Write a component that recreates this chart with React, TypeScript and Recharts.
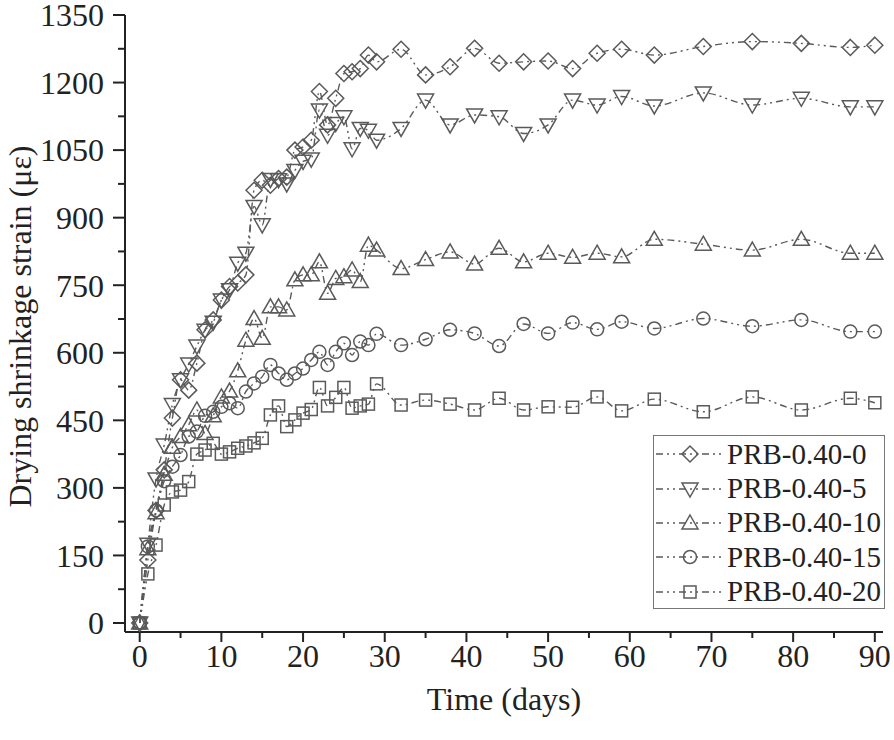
import React from "react";
import { LineChart, Line, XAxis, YAxis } from "recharts";

// sampling days (daily for the first month, then every few days)
const days = [
  0, 1, 2, 3, 4, 5, 6, 7, 8, 9, 10, 11, 12, 13, 14, 15, 16, 17, 18, 19, 20, 21, 22, 23, 24, 25, 26, 27, 28, 29,
  32, 35, 38, 41, 44, 47, 50, 53, 56, 59, 63, 69, 75, 81, 87, 90,
];

const prb0 = [
  0, 140, 250, 340, 455, 540, 517, 577, 651, 673, 717, 747, 755, 773, 961, 983, 972, 987, 990, 1050, 1057, 1072, 1180,
  1106, 1165, 1220, 1224, 1231, 1261, 1246,
  1274, 1217, 1235, 1276, 1243, 1246, 1248, 1231, 1265, 1274, 1261, 1280, 1291, 1287, 1278, 1283,
];
const prb5 = [
  0, 175, 320, 395, 485, 540, 575, 615, 650, 668, 717, 740, 799, 821, 925, 884, 985, 984, 975, 1005, 1025, 1030, 1139,
  1083, 1109, 1124, 1053, 1098, 1094, 1072,
  1098, 1161, 1106, 1128, 1124, 1087, 1106, 1161, 1150, 1169, 1148, 1177, 1150, 1165, 1146, 1146,
];
const prb10 = [
  0, 165, 245, 330, 390, 414, 440, 473, 421, 460, 502, 515, 560, 628, 676, 632, 702, 702, 695, 762, 773, 773, 802, 732,
  765, 769, 784, 758, 839, 828,
  787, 807, 824, 797, 832, 802, 821, 812, 821, 813, 852, 841, 828, 852, 821, 821,
];
const prb15 = [
  0, 170, 250, 315, 347, 373, 414, 425, 460, 469, 480, 488, 477, 514, 532, 547, 573, 554, 540, 554, 565, 584, 602, 573,
  602, 621, 595, 625, 617, 642,
  617, 630, 651, 643, 615, 664, 643, 667, 652, 669, 654, 676, 659, 673, 647, 647,
];
const prb20 = [
  0, 109, 173, 262, 291, 295, 314, 375, 384, 399, 375, 380, 388, 393, 400, 410, 462, 482, 436, 451, 466, 474, 523, 482,
  501, 523, 477, 482, 486, 531,
  484, 495, 486, 473, 499, 473, 480, 479, 502, 471, 497, 469, 502, 473, 499, 489,
];

const xTicks = [0, 5, 10, 15, 20, 25, 30, 35, 40, 45, 50, 55, 60, 65, 70, 75, 80, 85, 90];
const yTicks = [0, 75, 150, 225, 300, 375, 450, 525, 600, 675, 750, 825, 900, 975, 1050, 1125, 1200, 1275, 1350];

const series = [
  { key: "s0", name: "PRB-0.40-0", shape: "diamond", values: prb0 },
  { key: "s5", name: "PRB-0.40-5", shape: "down", values: prb5 },
  { key: "s10", name: "PRB-0.40-10", shape: "up", values: prb10 },
  { key: "s15", name: "PRB-0.40-15", shape: "circle", values: prb15 },
  { key: "s20", name: "PRB-0.40-20", shape: "square", values: prb20 },
];

const data = days.map((d, i) => {
  const row: Record<string, number> = { day: d };
  series.forEach((s) => (row[s.key] = s.values[i]));
  return row;
});

const FONT = '"Times New Roman", "Liberation Serif", serif';
const INK = "#222";
const GRAY = "#5a5a5a";
const DASH = "7 4 2 4 2 4";

function Marker({ cx, cy, shape }: { cx?: number; cy?: number; shape: string }) {
  if (cx == null || cy == null) return null;
  const common = { fill: "none", stroke: GRAY, strokeWidth: 1.5 };
  switch (shape) {
    case "diamond":
      return <polygon points={`${cx},${cy - 8} ${cx + 8},${cy} ${cx},${cy + 8} ${cx - 8},${cy}`} {...common} />;
    case "down":
      return <polygon points={`${cx - 8},${cy - 6} ${cx + 8},${cy - 6} ${cx},${cy + 8}`} {...common} />;
    case "up":
      return <polygon points={`${cx},${cy - 8} ${cx + 8},${cy + 6} ${cx - 8},${cy + 6}`} {...common} />;
    case "circle":
      return <circle cx={cx} cy={cy} r={6.5} {...common} />;
    default:
      return <rect x={cx - 6} y={cy - 6} width={12} height={12} {...common} />;
  }
}

function XTick({ x, y, payload }: any) {
  const major = payload.value % 10 === 0;
  return (
    <g>
      <line x1={x} y1={y} x2={x} y2={y + (major ? 10 : 6)} stroke={INK} strokeWidth={2} />
      {major && (
        <text x={x} y={y + 12} dy="0.71em" textAnchor="middle" fontFamily={FONT} fontSize={32} fill={INK}>
          {payload.value}
        </text>
      )}
    </g>
  );
}

function YTick({ x, y, payload }: any) {
  const major = payload.value % 150 === 0;
  return (
    <g>
      <line x1={x - (major ? 12 : 7)} y1={y} x2={x} y2={y} stroke={INK} strokeWidth={2} />
      {major && (
        <text x={x - 21} y={y} dy="0.355em" textAnchor="end" fontFamily={FONT} fontSize={32} fill={INK}>
          {payload.value}
        </text>
      )}
    </g>
  );
}

function XTitle({ viewBox }: any) {
  return (
    <text x={viewBox.x + viewBox.width / 2} y={viewBox.y + 78} textAnchor="middle" fontFamily={FONT} fontSize={32} fill={INK}>
      Time (days)
    </text>
  );
}

function YTitle({ viewBox }: any) {
  const cy = viewBox.y + viewBox.height / 2 + 3;
  return (
    <text x={31} y={cy} transform={`rotate(-90 31 ${cy})`} textAnchor="middle" fontFamily={FONT} fontSize={32} fill={INK}>
      Drying shrinkage strain (με)
    </text>
  );
}

function LegendBox() {
  return (
    <div
      style={{
        position: "absolute",
        left: 653,
        top: 435,
        width: 232,
        height: 174,
        boxSizing: "border-box",
        border: "1.5px solid #777",
        background: "#fff",
        fontFamily: FONT,
        fontSize: 29,
        color: INK,
        paddingTop: 1,
      }}
    >
      {series.map((s) => (
        <div key={s.key} style={{ height: 34.4, display: "flex", alignItems: "center" }}>
          <svg width={73} height={34} style={{ flex: "none" }}>
            <line x1={2} y1={17} x2={70} y2={17} stroke={GRAY} strokeWidth={1.4} strokeDasharray={DASH} />
            <Marker cx={36} cy={17} shape={s.shape} />
          </svg>
          <span style={{ lineHeight: 1 }}>{s.name}</span>
        </div>
      ))}
    </div>
  );
}

export default function App() {
  return (
    <div style={{ position: "absolute", left: 0, top: 0, width: 894, height: 740, background: "#fff" }}>
      <LineChart width={894} height={740} data={data} margin={{ top: 15, right: 11, left: 0, bottom: 0 }}>
        <XAxis
          dataKey="day"
          type="number"
          domain={[-1.8, 91]}
          ticks={xTicks}
          interval={0}
          height={108}
          tickSize={0}
          tickMargin={0}
          tickLine={false}
          tick={<XTick />}
          axisLine={{ stroke: INK, strokeWidth: 2 }}
          label={<XTitle />}
        />
        <YAxis
          type="number"
          domain={[-20, 1350]}
          ticks={yTicks}
          interval={0}
          width={125}
          tickSize={0}
          tickMargin={0}
          tickLine={false}
          tick={<YTick />}
          axisLine={{ stroke: INK, strokeWidth: 2 }}
          label={<YTitle />}
        />
        {series.map((s) => (
          <Line
            key={s.key}
            dataKey={s.key}
            name={s.name}
            type="monotone"
            stroke={GRAY}
            strokeWidth={1.4}
            strokeDasharray={DASH}
            dot={(p: any) => <Marker key={`${s.key}-${p.index}`} cx={p.cx} cy={p.cy} shape={s.shape} />}
            activeDot={false}
            isAnimationActive={false}
          />
        ))}
      </LineChart>
      <LegendBox />
    </div>
  );
}
